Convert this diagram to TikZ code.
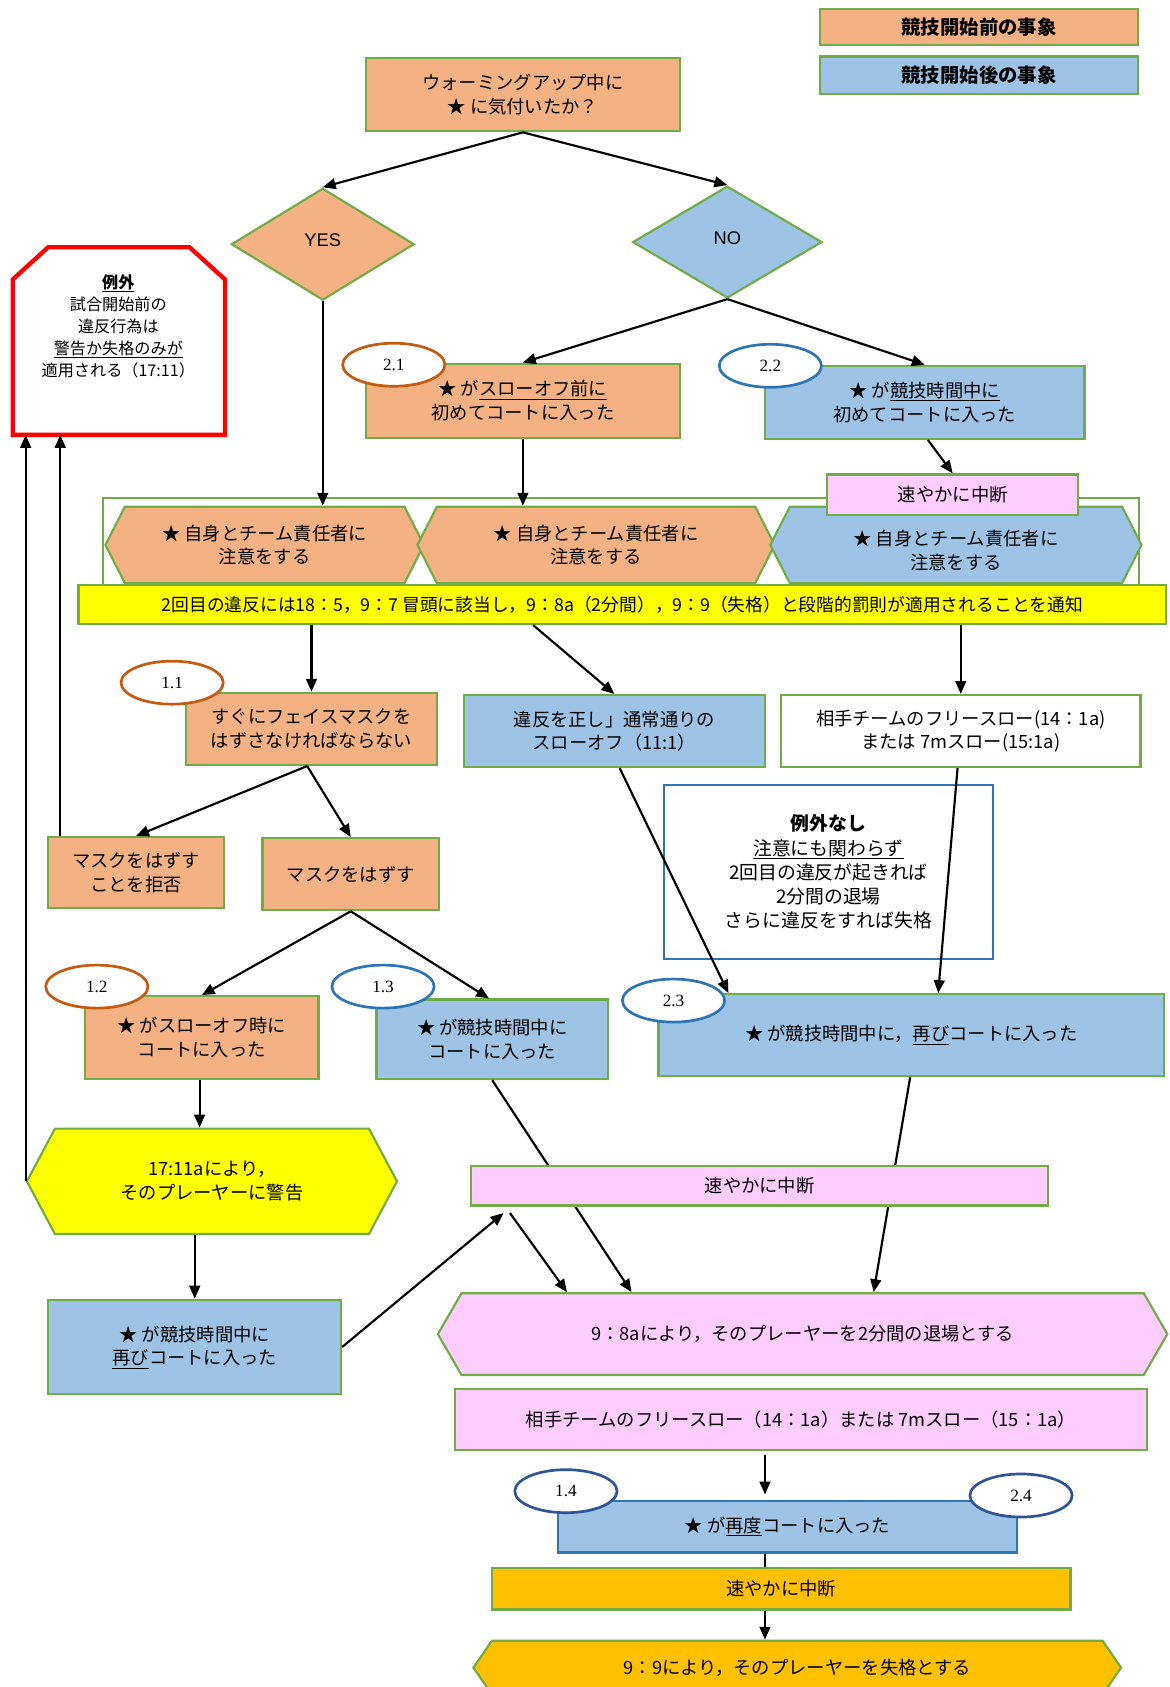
\documentclass[tikz,border=0pt]{standalone}
\usepackage{fontspec}
\setmainfont{Noto Sans CJK JP}
\newfontfamily\latin{Liberation Sans}
\newfontfamily\chiffre{Liberation Serif}
\usetikzlibrary{shapes.geometric,shapes.symbols,arrows.meta,calc}

\definecolor{avant}{HTML}{F4B183}
\definecolor{apres}{HTML}{9DC3E6}
\definecolor{bord}{HTML}{70AD47}
\definecolor{rose}{HTML}{FFCCFF}
\definecolor{jaune}{HTML}{FFFF00}
\definecolor{ambre}{HTML}{FFC000}
\definecolor{brun}{HTML}{C55A11}
\definecolor{bleu}{HTML}{2E75B6}
\definecolor{marine}{HTML}{2F5597}

\tikzset{boite/.style = {rectangle, draw = bord, line width = 2pt, fill = #1, inner sep = 2pt},
         boite/.default = white,
         taille/.style 2 args = {minimum width = #1, minimum height = #2},
         hexa/.style = {signal, signal to = west and east, draw = bord, line width = 2pt,
                        fill = #1, inner sep = 0pt},
         losange/.style = {diamond, draw = bord, line width = 2pt, fill = #1, inner sep = 0pt,
                           font = \latin\fontsize{17}{20}\selectfont},
         num/.style = {ellipse, draw = #1, line width = 2.5pt, fill = white,
                       minimum width = 95, minimum height = 40,
                       font = \chiffre\fontsize{16}{16}\selectfont},
         fleche/.style = {-{Triangle[length = 12pt, width = 10pt]}, line width = 2pt},
         trait/.style = {line width = 2pt}
        }

\begin{document}
\begin{tikzpicture}[x = 1pt, y = -1pt, every node/.style = {align = center, font = \fontsize{17}{22}\selectfont}]
  \useasboundingbox (0,0) rectangle (1087,1568);

  \node[boite = avant, taille = {296}{34}, font = \bfseries\fontsize{18}{20}\selectfont] (leg1) at (910,25) {競技開始前の事象};
  \node[boite = apres, taille = {296}{35}, font = \bfseries\fontsize{18}{20}\selectfont] (leg2) at (910,70) {競技開始後の事象};

  \node[boite = avant, taille = {292}{68}] (q) at (486,88) {ウォーミングアップ中に\\★ に気付いたか？};
  \node[losange = avant, minimum width = 170, minimum height = 104] (yes) at (300,227) {\raisebox{8pt}{YES}};
  \node[losange = apres, minimum width = 176, minimum height = 104] (no) at (676,225) {\raisebox{8pt}{NO}};

  \node[taille = {197}{174}] (exc) at (110.5,317) {};
  \draw[red, line width = 4pt, fill = white, line join = miter]
       (exc.south west) -- ($(exc.north west)+(0,30)$) -- ($(exc.north west)+(33,0)$)
       -- ($(exc.north east)+(-33,0)$) -- ($(exc.north east)+(0,30)$) -- (exc.south east) -- cycle;
  \node[font = \fontsize{15}{20.5}\selectfont] (exct) at (110,303)
       {\underline{\textbf{例外}}\\試合開始前の\\違反行為は\\\underline{警告か失格のみが}\\適用される（17:11）};

  \node[boite = avant, taille = {292}{69}] (n21) at (486,372.5) {★ が\underline{スローオフ前に}\\初めてコートに入った};
  \node[num = brun] (e21) at (366,339) {2.1};
  \node[boite = apres, taille = {297}{68}] (n22) at (859.5,374) {★ が\underline{競技時間中に}\\初めてコートに入った};
  \node[num = bleu] (e22) at (716,340) {2.2};

  \node[draw = bord, line width = 2pt, taille = {963}{82}] (cadre) at (577.5,504) {};
  \node[hexa = avant, signal pointer angle = 126, taille = {296}{71}] (h1) at (246,506.5) {★ 自身とチーム責任者に\\注意をする};
  \node[hexa = avant, signal pointer angle = 126, taille = {332}{71}] (h2) at (554,506.5) {★ 自身とチーム責任者に\\注意をする};
  \node[hexa = apres, signal pointer angle = 126, taille = {345}{71}] (h3) at (888.5,506.5) {\\[2pt]★ 自身とチーム責任者に\\注意をする};
  \node[boite = rose, taille = {233}{38}] (stop1) at (885.5,460) {速やかに中断};
  \node[boite = jaune, taille = {1011}{36}, font = \fontsize{16.5}{20}\selectfont] (bar) at (578.5,562)
       {2回目の違反には18：5，9：7 冒頭に該当し，9：8a（2分間），9：9（失格）と段階的罰則が適用されることを通知};

  \node[boite = avant, taille = {233}{67}] (n11) at (289.5,677.5) {すぐにフェイスマスクを\\はずさなければならない};
  \node[num = brun] (e11) at (160,634.5) {1.1};
  \node[boite = apres, taille = {280}{67}] (nfix) at (571,679.5) {違反を正し」通常通りの\\スローオフ（11:1）};
  \node[boite, taille = {334}{67}] (nfree) at (893,679.5) {相手チームのフリースロー(14：1a)\\または 7mスロー(15:1a)};

  \node[draw = bleu, line width = 2pt, fill = white, taille = {306}{161},
        font = \fontsize{17.5}{22.5}\selectfont] (noexc) at (770,810.5)
       {\textbf{例外なし}\\\underline{注意にも関わらず}\\2回目の違反が起きれば\\2分間の退場\\さらに違反をすれば失格};

  \node[boite = avant, taille = {163}{66}] (nrefuse) at (126.5,811) {マスクをはずす\\ことを拒否};
  \node[boite = avant, taille = {164}{67}] (nremove) at (326,812.5) {マスクをはずす};

  \node[boite = avant, taille = {217}{77}] (n12) at (187.5,964.5) {★ がスローオフ時に\\コートに入った};
  \node[num = brun] (e12) at (90,917) {1.2};
  \node[boite = apres, taille = {215}{74}] (n13) at (457.5,966) {★ が競技時間中に\\コートに入った};
  \node[num = bleu] (e13) at (356,917) {1.3};
  \node[boite = apres, taille = {470}{76}] (n23) at (847,962) {★ が競技時間中に，\underline{再び}コートに入った};
  \node[num = bleu] (e23) at (626,930) {2.3};

  \node[hexa = jaune, signal pointer angle = 124, taille = {344}{98}] (warn) at (197,1098) {17:11aにより，\\そのプレーヤーに警告};
  \node[boite = apres, taille = {272}{88}] (nagain) at (181,1252) {★ が競技時間中に\\\underline{再び}コートに入った};

  \node[hexa = rose, signal pointer angle = 120, taille = {678}{76}] (susp) at (746,1240) {9：8aにより，そのプレーヤーを2分間の退場とする};
  \node[boite = rose, taille = {643}{57}] (nfree2) at (744.5,1319.5) {相手チームのフリースロー（14：1a）または 7mスロー（15：1a）};

  \draw[fleche] (n13.south) -- ([xshift = -159]susp.north);
  \draw[fleche] ([xshift = -1]n23.south) -- ([xshift = 66]susp.north);
  \node[boite = rose, taille = {536}{37}] (stop2) at (706,1102) {速やかに中断};

  \node[boite = apres, draw = bleu, taille = {426}{48}] (nagain2) at (732,1419) {★ が\underline{再度}コートに入った};
  \node[num = marine] (e14) at (526,1386) {1.4};
  \node[num = marine] (e24) at (949,1390) {2.4};
  \node[boite = ambre, taille = {538}{39}] (stop3) at (726,1476.5) {速やかに中断};
  \node[hexa = ambre, signal pointer angle = 111, taille = {602}{50}] (dq) at (741,1550) {9：9により，そのプレーヤーを失格とする};

  \draw[fleche] (q.south) -- (yes.north);
  \draw[fleche] (q.south) -- (no.north);
  \draw[fleche] (yes.south) -- (yes.south |- h1.north);
  \draw[fleche] (no.south) -- (n21.north);
  \draw[fleche] (no.south) -- (n22.north);
  \draw[fleche] (n21.south) -- (n21.south |- h2.north);
  \draw[fleche] ([xshift = 3]n22.south) -- (stop1.north);
  \draw[fleche] (bar.south -| n11.north) -- (n11.north);
  \draw[fleche] ([xshift = -83]bar.south) -- (nfix.north);
  \draw[fleche] (bar.south -| nfree.north) -- (nfree.north);
  \draw[fleche] ([xshift = -4]n11.south) -- (nrefuse.north);
  \draw[fleche] ([xshift = -4]n11.south) -- (nremove.north);
  \draw[fleche] ($(nrefuse.north west)+(12,0)$) coordinate (r1) -- (r1 |- exc.south);
  \draw[fleche] (warn.west) -- (warn.west |- exc.south);
  \draw[fleche] (nremove.south) -- (n12.north);
  \draw[fleche] (nremove.south) -- ([xshift = -3]n13.north);
  \draw[fleche] ([xshift = 5]nfix.south) -- ([xshift = 66]n23.north west);
  \draw[fleche] ([xshift = -3]nfree.south) -- ([xshift = 25]n23.north);
  \draw[fleche] ([xshift = -2]n12.south) -- ([xshift = -2]n12.south |- warn.north);
  \draw[fleche] (warn.south -| nagain.north) -- (nagain.north);
  \draw[fleche] (nagain.east) -- ($(stop2.south west)+(31,6)$);
  \draw[fleche] ($(stop2.south west)+(37,6)$) -- ([xshift = -219]susp.north);
  \draw[fleche] ([xshift = -33.5,yshift = -3]nfree2.south) -- ([xshift = -21,yshift = 5]nagain2.north);
  \draw[trait] ([xshift = -21]nagain2.south) -- ([xshift = -15]stop3.north);
  \draw[fleche] ([xshift = -15]stop3.south) -- ([xshift = -30]dq.north);
\end{tikzpicture}
\end{document}
